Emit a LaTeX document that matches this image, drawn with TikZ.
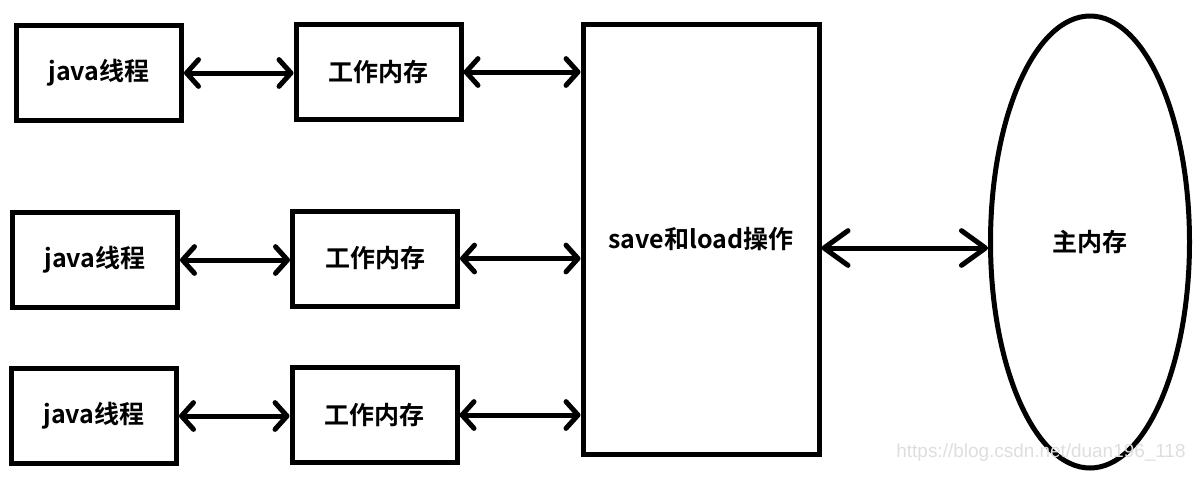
\documentclass[tikz,border=0pt]{standalone}
\usepackage{fontspec}
\usepackage{tikz}
\usetikzlibrary{arrows.meta,shapes.geometric}
\newfontfamily\cjk{Noto Sans CJK SC Bold}
\setsansfont{Liberation Sans}

\begin{document}
\begin{tikzpicture}[
		x=0.75pt, y=-0.75pt,
		line width=3.75pt,
		box/.style={draw, rectangle, inner sep=0pt,
			minimum width=123.75pt, minimum height=71.25pt,
			font=\cjk\fontsize{18.75pt}{20pt}\selectfont},
		link/.style={{Straight Barb[length=9pt,width=20pt,round]}-{Straight Barb[length=9pt,width=20pt,round]}},
		biglink/.style={{Straight Barb[length=18pt,width=26pt,round]}-{Straight Barb[length=18pt,width=26pt,round]}},
		]
		\useasboundingbox (0,0) rectangle (1203,483);
		\node[box] (java1) at (99,73) {java线程};
		\node[box] (work1) at (378.5,72) {工作内存};
		\node[box] (java2) at (95,260) {java线程};
		\node[box] (work2) at (375,258.5) {工作内存};
		\node[box] (java3) at (94,416) {java线程};
		\node[box] (work3) at (374.5,415) {工作内存};
		\node[box, minimum width=177pt, minimum height=322.5pt] (saveload) at (701,239.5) {save和load操作};
		\node[box, ellipse, minimum width=149.25pt, minimum height=339pt] (mainmem) at (1090,242) {主内存};
		\foreach \i in {1,2,3} {
			\draw[link] (java\i.east) -- (java\i.east -| work\i.west);
			\draw[link] (work\i.east) -- (work\i.east -| saveload.west);
		}
		\draw[biglink] (saveload.east |- 0,248) coordinate (s) -- (s -| mainmem.west);
		\node[text=black!13, font=\sffamily\fontsize{14.2pt}{15pt}\selectfont] (mark) at (1041,453) {https://blog.csdn.net/duan196\_118};
\end{tikzpicture}
\end{document}
